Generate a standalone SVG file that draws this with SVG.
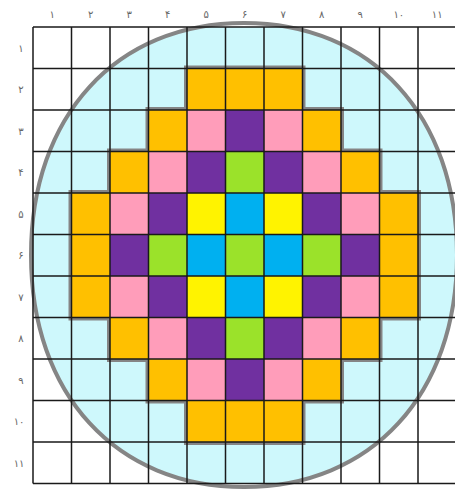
<svg xmlns="http://www.w3.org/2000/svg" width="455" height="489" viewBox="0 0 455 489">
<style>
.o{fill:#FFC000}.p{fill:#FF9DBA}.v{fill:#7030A0}.g{fill:#9BE22A}.b{fill:#00B0F0}.y{fill:#FFF300}
.lbl{font-family:"DejaVu Sans","Noto Sans",sans-serif;font-size:10px;fill:#666;text-anchor:middle}
</style>
<defs>
<clipPath id="gridclip"><rect x="33" y="27" width="424" height="456.5"/></clipPath>
<path id="oval" d="M31,255 C31,115.8 116.2,23 244,23 C371.8,23 457,115.8 457,255 C457,394.2 371.8,487 244,487 C116.2,487 31,394.2 31,255 Z"/>
</defs>
<rect x="0" y="0" width="455" height="489" fill="#ffffff"/>
<g id="circle-fill" clip-path="url(#gridclip)">
<use href="#oval" fill="#CEF8FC"/>
</g>
<g id="shadow">
<polygon points="187,68.5 302.5,68.5 302.5,110 341,110 341,151.5 379.5,151.5 379.5,193 418,193 418,317.5 379.5,317.5 379.5,359 341,359 341,400.5 302.5,400.5 302.5,442 187,442 187,400.5 148.5,400.5 148.5,359 110,359 110,317.5 71.5,317.5 71.5,193 110,193 110,151.5 148.5,151.5 148.5,110 187,110" fill="none" stroke="#858585" stroke-width="6" stroke-linejoin="miter"/>
</g>
<g id="cells">
<!-- row 2 -->
<rect class="o" x="187" y="68.5" width="38.5" height="41.5"/>
<rect class="o" x="225.5" y="68.5" width="38.5" height="41.5"/>
<rect class="o" x="264" y="68.5" width="38.5" height="41.5"/>
<!-- row 3 -->
<rect class="o" x="148.5" y="110" width="38.5" height="41.5"/>
<rect class="p" x="187" y="110" width="38.5" height="41.5"/>
<rect class="v" x="225.5" y="110" width="38.5" height="41.5"/>
<rect class="p" x="264" y="110" width="38.5" height="41.5"/>
<rect class="o" x="302.5" y="110" width="38.5" height="41.5"/>
<!-- row 4 -->
<rect class="o" x="110" y="151.5" width="38.5" height="41.5"/>
<rect class="p" x="148.5" y="151.5" width="38.5" height="41.5"/>
<rect class="v" x="187" y="151.5" width="38.5" height="41.5"/>
<rect class="g" x="225.5" y="151.5" width="38.5" height="41.5"/>
<rect class="v" x="264" y="151.5" width="38.5" height="41.5"/>
<rect class="p" x="302.5" y="151.5" width="38.5" height="41.5"/>
<rect class="o" x="341" y="151.5" width="38.5" height="41.5"/>
<!-- row 5 -->
<rect class="o" x="71.5" y="193" width="38.5" height="41.5"/>
<rect class="p" x="110" y="193" width="38.5" height="41.5"/>
<rect class="v" x="148.5" y="193" width="38.5" height="41.5"/>
<rect class="y" x="187" y="193" width="38.5" height="41.5"/>
<rect class="b" x="225.5" y="193" width="38.5" height="41.5"/>
<rect class="y" x="264" y="193" width="38.5" height="41.5"/>
<rect class="v" x="302.5" y="193" width="38.5" height="41.5"/>
<rect class="p" x="341" y="193" width="38.5" height="41.5"/>
<rect class="o" x="379.5" y="193" width="38.5" height="41.5"/>
<!-- row 6 -->
<rect class="o" x="71.5" y="234.5" width="38.5" height="41.5"/>
<rect class="v" x="110" y="234.5" width="38.5" height="41.5"/>
<rect class="g" x="148.5" y="234.5" width="38.5" height="41.5"/>
<rect class="b" x="187" y="234.5" width="38.5" height="41.5"/>
<rect class="g" x="225.5" y="234.5" width="38.5" height="41.5"/>
<rect class="b" x="264" y="234.5" width="38.5" height="41.5"/>
<rect class="g" x="302.5" y="234.5" width="38.5" height="41.5"/>
<rect class="v" x="341" y="234.5" width="38.5" height="41.5"/>
<rect class="o" x="379.5" y="234.5" width="38.5" height="41.5"/>
<!-- row 7 -->
<rect class="o" x="71.5" y="276" width="38.5" height="41.5"/>
<rect class="p" x="110" y="276" width="38.5" height="41.5"/>
<rect class="v" x="148.5" y="276" width="38.5" height="41.5"/>
<rect class="y" x="187" y="276" width="38.5" height="41.5"/>
<rect class="b" x="225.5" y="276" width="38.5" height="41.5"/>
<rect class="y" x="264" y="276" width="38.5" height="41.5"/>
<rect class="v" x="302.5" y="276" width="38.5" height="41.5"/>
<rect class="p" x="341" y="276" width="38.5" height="41.5"/>
<rect class="o" x="379.5" y="276" width="38.5" height="41.5"/>
<!-- row 8 -->
<rect class="o" x="110" y="317.5" width="38.5" height="41.5"/>
<rect class="p" x="148.5" y="317.5" width="38.5" height="41.5"/>
<rect class="v" x="187" y="317.5" width="38.5" height="41.5"/>
<rect class="g" x="225.5" y="317.5" width="38.5" height="41.5"/>
<rect class="v" x="264" y="317.5" width="38.5" height="41.5"/>
<rect class="p" x="302.5" y="317.5" width="38.5" height="41.5"/>
<rect class="o" x="341" y="317.5" width="38.5" height="41.5"/>
<!-- row 9 -->
<rect class="o" x="148.5" y="359" width="38.5" height="41.5"/>
<rect class="p" x="187" y="359" width="38.5" height="41.5"/>
<rect class="v" x="225.5" y="359" width="38.5" height="41.5"/>
<rect class="p" x="264" y="359" width="38.5" height="41.5"/>
<rect class="o" x="302.5" y="359" width="38.5" height="41.5"/>
<!-- row 10 -->
<rect class="o" x="187" y="400.5" width="38.5" height="41.5"/>
<rect class="o" x="225.5" y="400.5" width="38.5" height="41.5"/>
<rect class="o" x="264" y="400.5" width="38.5" height="41.5"/>
</g>
<g id="circle-outline">
<use href="#oval" fill="none" stroke="#858585" stroke-width="4"/>
</g>
<g id="grid" stroke="#1a1a1a" stroke-width="1.5" fill="none">
<path d="M33,27V483.5M71.5,27V483.5M110,27V483.5M148.5,27V483.5M187,27V483.5M225.5,27V483.5M264,27V483.5M302.5,27V483.5M341,27V483.5M379.5,27V483.5M418,27V483.5"/>
<path d="M33,27H456M33,68.5H456M33,110H456M33,151.5H456M33,193H456M33,234.5H456M33,276H456M33,317.5H456M33,359H456M33,400.5H456M33,442H456M33,483.5H456"/>
</g>
<g id="col-labels" class="lbl">
<text x="52.2" y="18">۱</text>
<text x="90.8" y="18">۲</text>
<text x="129.2" y="18">۳</text>
<text x="167.8" y="18">۴</text>
<text x="206.2" y="18">۵</text>
<text x="244.8" y="18">۶</text>
<text x="283.2" y="18">۷</text>
<text x="321.8" y="18">۸</text>
<text x="360.2" y="18">۹</text>
<text x="398.8" y="18">۱۰</text>
<text x="437.2" y="18">۱۱</text>
</g>
<g id="row-labels" class="lbl">
<text x="21" y="51.5">۱</text>
<text x="21" y="93">۲</text>
<text x="21" y="134.5">۳</text>
<text x="21" y="176">۴</text>
<text x="21" y="217.5">۵</text>
<text x="21" y="259">۶</text>
<text x="21" y="300.5">۷</text>
<text x="21" y="342">۸</text>
<text x="21" y="383.5">۹</text>
<text x="19" y="425">۱۰</text>
<text x="19" y="466.5">۱۱</text>
</g>
</svg>
